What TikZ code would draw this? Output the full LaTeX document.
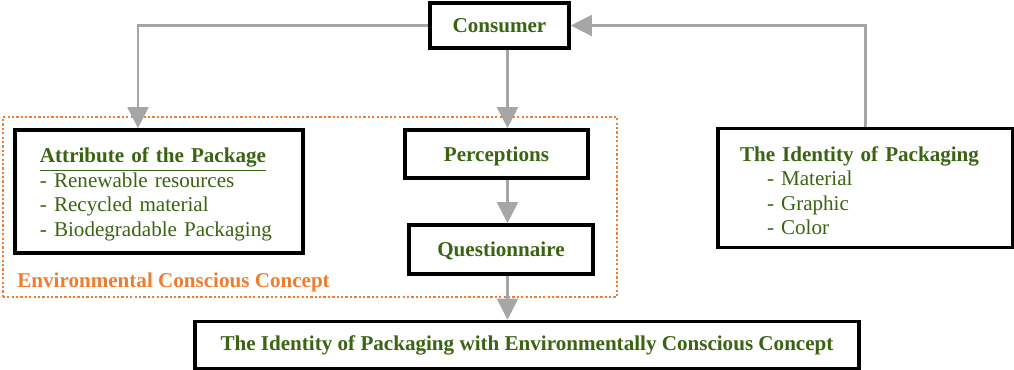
\documentclass[tikz,border=0pt]{standalone}
\usepackage{fontspec}
\setmainfont{Liberation Serif}
\usetikzlibrary{arrows.meta, positioning, calc}
\definecolor{leafgreen}{RGB}{58,100,18}
\definecolor{ecoorange}{RGB}{237,125,49}
\definecolor{linkgray}{RGB}{166,166,166}
\tikzset{
  box/.style={draw=black, line width=2.1pt, fill=white, text=leafgreen, font=\fontsize{12}{13.9}\selectfont, align=center, inner sep=0pt},
  link/.style={draw=linkgray, line width=1.2pt, -{Triangle[length=0.42cm, width=0.42cm]}},
}

\begin{document}
\begin{tikzpicture}
  \useasboundingbox (0,0) rectangle (20.28,7.4);

  % Environmental conscious concept frame
  \draw[ecoorange, line width=1.3pt, dash pattern=on 1.3pt off 1.2pt] (0.06,1.46) rectangle (12.34,5.06);
  \node[anchor=west, inner sep=0pt, text=ecoorange, font=\fontsize{12}{13.9}\selectfont\bfseries] (ecc) at (0.34,1.76) {Environmental Conscious Concept};

  % Consumer
  \node[box, minimum width=2.78cm, minimum height=0.9cm, font=\fontsize{12}{13.9}\selectfont\bfseries] (consumer) at (9.99,6.89) {Consumer};

  % Attribute of the package
  \node[box, align=left, text width=4.76cm, inner xsep=0.5cm, minimum height=2.46cm] (attr) at (3.18,3.57) {
    {\bfseries\rule{0pt}{11.6pt}\underline{Attribute of the Package}}\\
    - Renewable resources\\
    - Recycled material\\
    - Biodegradable Packaging};

  % Perceptions and questionnaire
  \node[box, minimum width=3.66cm, minimum height=0.96cm, font=\fontsize{12}{13.9}\selectfont\bfseries] (percep) at (9.93,4.32) {\rule{0pt}{11pt}Perceptions};
  \node[box, minimum width=3.68cm, minimum height=0.98cm, font=\fontsize{12}{13.9}\selectfont\bfseries] (quest) at (10.02,2.41) {\rule{0pt}{10pt}Questionnaire};

  % The identity of packaging
  \node[box, align=left, text width=5.02cm, inner xsep=0.44cm, minimum height=2.38cm] (ident) at (17.31,3.64) {
    {\bfseries\rule{0pt}{11.6pt}The Identity of Packaging}\\
    \hspace*{0.54cm}- Material\\
    \hspace*{0.54cm}- Graphic\\
    \hspace*{0.54cm}- Color};

  % Result
  \node[box, minimum width=13.28cm, minimum height=0.94cm, font=\fontsize{12}{13.9}\selectfont\bfseries] (idconcept) at (10.54,0.5) {The Identity of Packaging with Environmentally Conscious Concept};

  % Connectors
  \coordinate (col) at (10.15,0);
  \draw[link] (consumer.west) -| ([xshift=-0.42cm]attr.north);
  \draw[link] (ident.north) |- (consumer.east);
  \draw[link] (consumer.south -| col) -- (percep.north -| col);
  \draw[link] (percep.south -| col) -- (quest.north -| col);
  \draw[link] (quest.south -| col) -- (idconcept.north -| col);
\end{tikzpicture}
\end{document}
